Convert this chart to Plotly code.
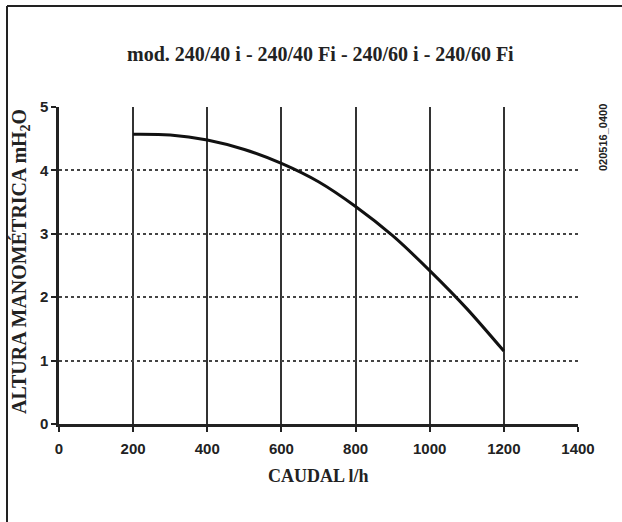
import plotly.graph_objects as go

caudal = [200, 300, 400, 500, 600, 700, 800, 900, 1000, 1100, 1200]
altura = [4.57, 4.56, 4.48, 4.33, 4.11, 3.82, 3.43, 2.97, 2.42, 1.82, 1.15]

x_ticks = [0, 200, 400, 600, 800, 1000, 1200, 1400]
y_ticks = [0, 1, 2, 3, 4, 5]

title_text = "mod. 240/40 i - 240/40 Fi - 240/60 i - 240/60 Fi"
x_title = "CAUDAL l/h"
y_title = "ALTURA MANOMÉTRICA mH<sub>2</sub>O"
code_text = "020516_0400"

serif = "Liberation Serif"
sans = "Liberation Sans"

fig = go.Figure()
fig.add_trace(go.Scatter(
    x=caudal, y=altura, mode="lines",
    line=dict(color="#111111", width=3, shape="spline", smoothing=0.8),
    showlegend=False, hoverinfo="skip"))

L, R, T, B = 59, 44, 107, 98
W, H = 622, 522
pw = W - L - R
ph = H - T - B

def px2paper_x(px):
    return (px - L) / pw

def px2paper_y(py):
    return (H - B - py) / ph

tickfont = dict(family=sans, size=15, color="#222")

fig.update_layout(
    width=W, height=H,
    margin=dict(l=L, r=R, t=T, b=B, pad=0),
    paper_bgcolor="white", plot_bgcolor="white",
    xaxis=dict(range=[0, 1400], tickvals=x_ticks,
               ticktext=["<b>%d</b>" % v for v in x_ticks],
               ticks="outside", ticklen=5, ticklabelstandoff=4,
               tickwidth=2, tickcolor="#222", showline=True, linecolor="#222",
               linewidth=2.5, showgrid=True, gridcolor="#333", gridwidth=1.5,
               zeroline=False, tickfont=tickfont,
               title=dict(text=""), fixedrange=True),
    yaxis=dict(range=[0, 5], tickvals=y_ticks,
               ticktext=["<b>%d</b>" % v for v in y_ticks],
               ticks="outside", ticklen=5,
               tickwidth=2, tickcolor="#222", showline=True, linecolor="#222",
               linewidth=2.5, showgrid=True, gridcolor="#444", gridwidth=1.5,
               griddash="dot", zeroline=False, tickfont=tickfont,
               title=dict(text=""), fixedrange=True),
    showlegend=False,
)

fig.add_annotation(text="<b>" + title_text + "</b>", xref="paper", yref="paper",
                   x=px2paper_x(320), y=px2paper_y(54), showarrow=False,
                   font=dict(family=serif, size=20, color="#222"),
                   xanchor="center", yanchor="middle")
fig.add_annotation(text="<b>" + x_title + "</b>", xref="paper", yref="paper",
                   x=px2paper_x(318), y=px2paper_y(476), showarrow=False,
                   font=dict(family=serif, size=18, color="#222"),
                   xanchor="center", yanchor="middle")
fig.add_annotation(text="<b>" + y_title + "</b>", xref="paper", yref="paper",
                   x=px2paper_x(20), y=px2paper_y(262), showarrow=False,
                   textangle=-90,
                   font=dict(family=serif, size=20, color="#222"),
                   xanchor="center", yanchor="middle")
fig.add_annotation(text="<b>" + code_text + "</b>", xref="paper", yref="paper",
                   x=px2paper_x(603), y=px2paper_y(138), showarrow=False,
                   textangle=-90,
                   font=dict(family=sans, size=11, color="#222"),
                   xanchor="center", yanchor="middle")

# outer frame (top and left edges of the cropped border)
fig.add_shape(type="line", xref="paper", yref="paper",
              x0=px2paper_x(7), y0=px2paper_y(6), x1=px2paper_x(630), y1=px2paper_y(6),
              line=dict(color="#222", width=2))
fig.add_shape(type="line", xref="paper", yref="paper",
              x0=px2paper_x(7), y0=px2paper_y(6), x1=px2paper_x(7), y1=px2paper_y(530),
              line=dict(color="#222", width=2))

fig.write_html("out.html", config={"displayModeBar": False},
               post_script="document.body.style.margin='0';document.body.style.padding='0';")
